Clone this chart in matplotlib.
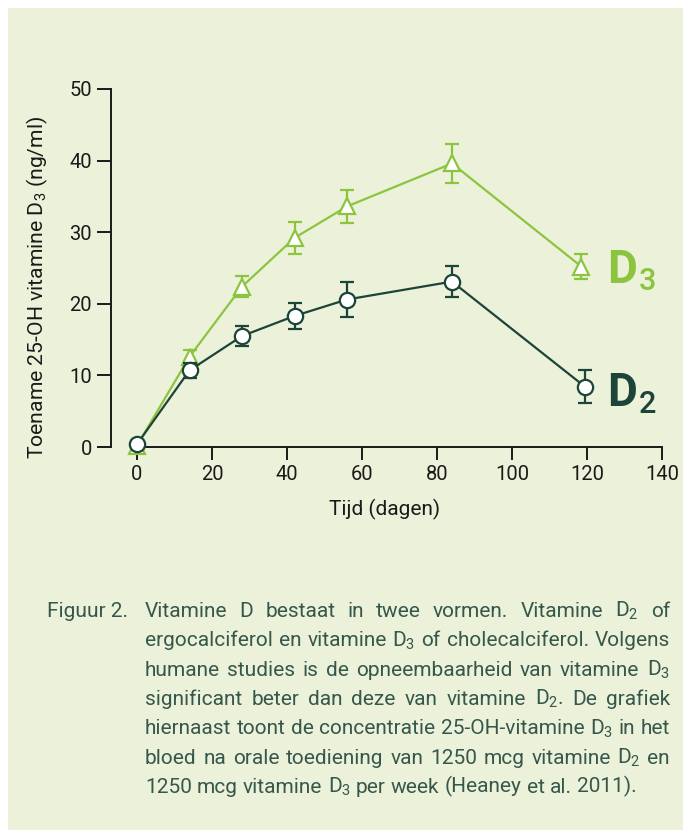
import matplotlib
matplotlib.use('Agg')
import matplotlib.pyplot as plt
from matplotlib.patches import Rectangle

plt.rcParams['font.family'] = ['Roboto', 'DejaVu Sans']
plt.rcParams['mathtext.default'] = 'regular'

# data
dagen_d3 = [0, 14, 28, 42, 56, 84, 118.5]
waarde_d3 = [0.2, 12.6, 22.4, 29.2, 33.6, 39.6, 25.2]
fout_d3 = [0, 1.0, 1.5, 2.2, 2.3, 2.7, 1.7]

dagen_d2 = [0, 14, 28, 42, 56, 84, 119.5]
waarde_d2 = [0.4, 10.7, 15.5, 18.3, 20.6, 23.1, 8.4]
fout_d2 = [0, 1.0, 1.4, 1.8, 2.5, 2.2, 2.3]

xticks = [0, 20, 40, 60, 80, 100, 120, 140]
yticks = [0, 10, 20, 30, 40, 50]

caption_label = 'Figuur 2.'
caption_lines = [
    'Vitamine D bestaat in twee vormen. Vitamine D$_2$ of',
    'ergocalciferol en vitamine D$_3$ of cholecalciferol. Volgens',
    'humane studies is de opneembaarheid van vitamine D$_3$',
    'significant beter dan deze van vitamine D$_2$. De grafiek',
    'hiernaast toont de concentratie 25-OH-vitamine D$_3$ in het',
    'bloed na orale toediening van 1250 mcg vitamine D$_2$ en',
    '1250 mcg vitamine D$_3$ per week (Heaney et al. 2011).',
]

bg = '#ecf1da'
licht = '#8cc43f'
donker = '#1c4438'
tekst = '#1a1a1a'
captkleur = '#36574b'

W, H = 683, 830
fig = plt.figure(figsize=(W / 100, H / 100), dpi=100)
fig.patch.set_facecolor('white')
fig.patches.append(Rectangle((8 / W, 0), 1 - 8 / W, 1 - 8 / H, transform=fig.transFigure,
                             facecolor=bg, edgecolor='none', zorder=-10))
renderer = fig.canvas.get_renderer()

ax = fig.add_axes([137 / W, 1 - 447 / H, (662 - 137) / W, (447 - 89) / H])
ax.set_facecolor('none')
ax.set_xlim(0, 140)
ax.set_ylim(0, 50)

# D3 lijn
ax.errorbar(dagen_d3, waarde_d3, yerr=fout_d3, color=licht, lw=1.6, elinewidth=1.6,
            capsize=4.7, capthick=1.6, marker='^', ms=11, mfc='white', mec=licht,
            mew=1.6, clip_on=False, zorder=3)
# D2 lijn
ax.errorbar(dagen_d2, waarde_d2, yerr=fout_d2, color=donker, lw=1.6, elinewidth=1.6,
            capsize=4.7, capthick=1.6, marker='o', ms=11, mfc='white', mec=donker,
            mew=1.6, clip_on=False, zorder=4)

# labels D3 / D2 rechts van de lijnen
for (lx, ly, sub, kleur) in [(125.3, 22.9, '3', licht), (125.3, 5.7, '2', donker)]:
    d = ax.text(lx, ly, 'D', color=kleur, fontsize=33, fontweight='bold',
                ha='left', va='baseline')
    bb = d.get_window_extent(renderer)
    bx, by = ax.transData.transform((lx, ly))
    fig.text((bb.x1 + 2) / W, (by - 7) / H, sub, color=kleur, fontsize=22,
             fontweight='medium', ha='left', va='baseline')

for s in ['top', 'right']:
    ax.spines[s].set_visible(False)
ax.spines['left'].set_position(('outward', 26 * 0.72))
for s in ['left', 'bottom']:
    ax.spines[s].set_linewidth(1.4)
    ax.spines[s].set_color(tekst)

ax.set_xticks(xticks)
ax.set_yticks(yticks)
ax.tick_params(axis='both', colors=tekst, labelsize=14.5, width=1.4)
ax.tick_params(axis='y', length=10, pad=3.6)
ax.tick_params(axis='x', length=9, pad=3.6)

fig.text(385 / W, 1 - 515 / H, 'Tijd (dagen)', fontsize=15, color=tekst,
         ha='center', va='baseline')
fig.text(37 / W, 1 - 287 / H, 'Toename 25-OH vitamine D$_3$ (ng/ml)', fontsize=15.2,
         color=tekst, rotation=90, ha='center', va='center')

# onderschrift, uitgevuld
cfam = ['Roboto', 'DejaVu Sans']
csize = 15
fig.text(47 / W, 1 - 617 / H, caption_label, family=cfam, fontsize=csize,
         color=captkleur, ha='left', va='baseline')

left, right = 145, 670
base0, step = 617, 29.3
ref = fig.text(0, 0, 'a a', family=cfam, fontsize=csize)
ref2 = fig.text(0, 0, 'aa', family=cfam, fontsize=csize)
space_w = ref.get_window_extent(renderer).width - ref2.get_window_extent(renderer).width
ref.remove()
ref2.remove()

for i, line in enumerate(caption_lines):
    y = 1 - (base0 + i * step) / H
    words = line.split(' ')
    objs = [fig.text(0, y, w, family=cfam, fontsize=csize, color=captkleur,
                     ha='left', va='baseline') for w in words]
    widths = [o.get_window_extent(renderer).width for o in objs]
    if i < len(caption_lines) - 1 and len(words) > 1:
        gap = (right - left - sum(widths)) / (len(words) - 1)
    else:
        gap = space_w
    x = left
    for o, w in zip(objs, widths):
        o.set_x(x / W)
        x += w + gap

fig.savefig('out.png', dpi=100, facecolor=fig.get_facecolor())
